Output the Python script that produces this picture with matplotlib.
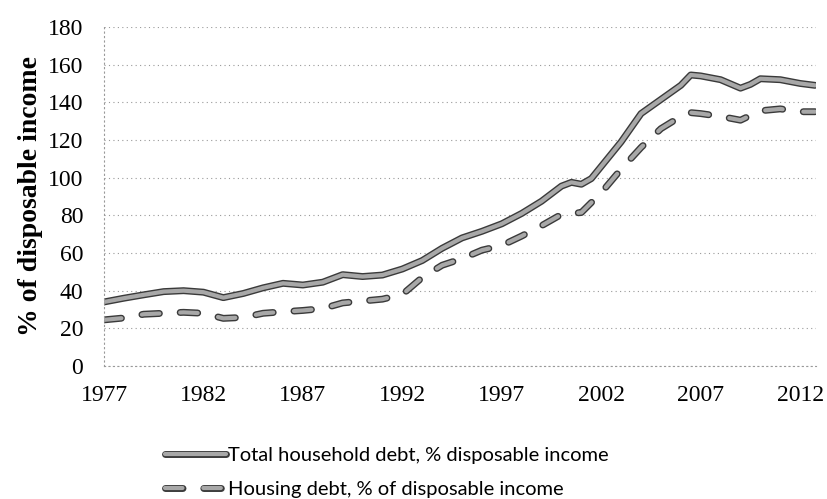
import matplotlib
matplotlib.use("Agg")
import matplotlib.pyplot as plt
import matplotlib.patheffects as pe

# data (year, % of disposable income)
total_years = [1977, 1978, 1979, 1980, 1981, 1982, 1983, 1984, 1985, 1986,
               1987, 1988, 1989, 1990, 1991, 1992, 1993, 1994, 1995, 1996,
               1997, 1998, 1999, 2000, 2000.5, 2001, 2001.5, 2002, 2003, 2004,
               2005, 2006, 2006.5, 2007, 2008, 2009, 2009.5, 2010, 2011, 2012,
               2012.75]
total_debt = [34, 36, 37.8, 39.5, 40, 39.2, 36.3, 38.5, 41.5, 43.9,
              43, 44.5, 48.5, 47.5, 48.3, 51.5, 56, 62.5, 68, 71.5,
              75.5, 81, 87.5, 95.5, 97.5, 96.5, 99.5, 106, 119, 134,
              141.5, 149, 154.5, 154, 152, 147.5, 149.5, 152.5, 152, 150,
              149]

housing_years = [1977, 1978, 1979, 1980, 1981, 1982, 1983, 1984, 1985, 1986,
                 1987, 1988, 1989, 1990, 1991, 1992, 1993, 1994, 1995, 1996,
                 1997, 1998, 1999, 2000, 2001, 2002, 2003, 2004, 2005, 2006,
                 2006.5, 2007, 2008, 2009, 2010, 2011, 2012, 2012.75]
housing_debt = [24.5, 25.5, 27.5, 28, 28.5, 28, 25.3, 25.8, 28, 28.8,
                29.5, 30.5, 33.5, 34.5, 35.5, 38, 47, 53.5, 57, 61.5,
                64, 69, 74.5, 80.5, 81.5, 92, 104.5, 116, 126, 132.5,
                134.5, 134, 132.5, 130.5, 135.5, 136.5, 135, 135]

year_ticks = [1977, 1982, 1987, 1992, 1997, 2002, 2007, 2012]
y_ticks = list(range(0, 181, 20))

fig = plt.figure(figsize=(8.28, 4.99), dpi=100)
ax = fig.add_axes([0.1256, 0.2665, 0.86, 0.6795])

outline = [pe.Stroke(linewidth=5, foreground="#3a3a3a"), pe.Normal()]

ax.plot(total_years, total_debt, color="#a8a8a8", lw=3,
        path_effects=outline, solid_capstyle="round",
        label="Total household debt, % disposable income")
ax.plot(housing_years, housing_debt, color="#a8a8a8", lw=3,
        dashes=(4.2, 5.0), dash_capstyle="round", path_effects=outline,
        label="Housing debt, % of disposable income")

ax.set_xlim(1977, 2012.8)
ax.set_ylim(0, 180)
ax.set_xticks(year_ticks)
ax.set_yticks(y_ticks)
ax.tick_params(axis="y", length=0, labelsize=17, pad=15)
ax.tick_params(axis="x", length=0, labelsize=17, pad=14)
for lab in ax.get_xticklabels() + ax.get_yticklabels():
    lab.set_family("Liberation Serif")

ax.grid(axis="y", color="#999999", lw=0.8, ls=(0, (1, 3)))
for s in ["top", "right"]:
    ax.spines[s].set_visible(False)
for s in ["left", "bottom"]:
    ax.spines[s].set_color("#999999")
    ax.spines[s].set_linestyle((0, (1, 3)))
    ax.spines[s].set_linewidth(0.8)

ax.set_ylabel("% of disposable income", family="Liberation Serif",
              fontsize=20, fontweight="bold", labelpad=3)

fig.legend(loc="lower center", bbox_to_anchor=(0.467, -0.034), ncol=1,
           frameon=False, handlelength=3.0, handletextpad=0.1,
           labelspacing=0.85, prop={"family": "Lato", "size": 14.5})

fig.savefig("out.png", dpi=100)
